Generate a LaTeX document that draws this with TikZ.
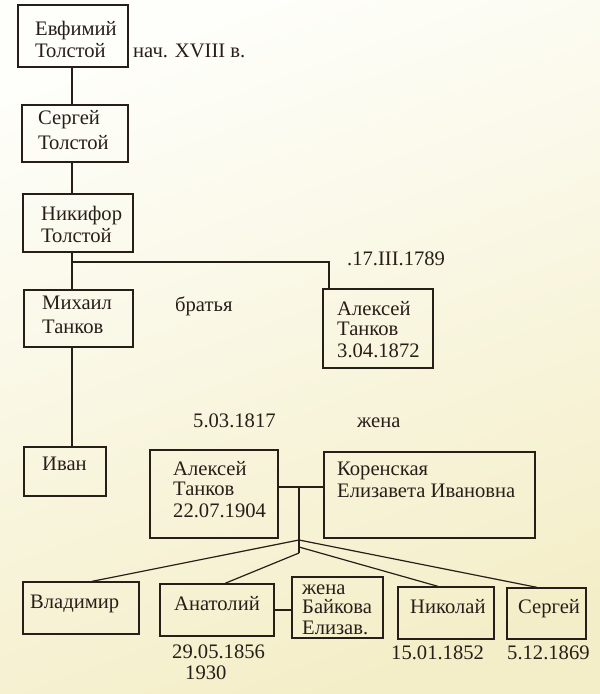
\documentclass[tikz,border=0pt]{standalone}
\usepackage{fontspec}
\setmainfont{Liberation Serif}
\definecolor{ink}{RGB}{40,30,25}
\definecolor{paperA}{RGB}{254,254,250}
\definecolor{paperB}{RGB}{244,238,200}
\begin{document}
\begin{tikzpicture}[x=1pt,y=-1pt,
  box/.style={draw=ink, line width=1.3pt, rectangle, inner sep=0pt},
  txt/.style={text=ink, inner sep=0pt, anchor=base west, font=\fontsize{20.6}{22}\selectfont},
  link/.style={draw=ink, line width=1.2pt}]
\useasboundingbox (0,0) rectangle (600,694);
\shade[top color=paperA, bottom color=paperB, shading angle=20] (0,0) rectangle (600,694);

% boxes
\node[box, minimum width=110, minimum height=62] (ev) at (73,36) {};
\node[box, minimum width=106, minimum height=57] (se) at (75,133.5) {};
\node[box, minimum width=110, minimum height=58] (ni) at (78,223) {};
\node[box, minimum width=109, minimum height=57] (mi) at (78.5,318.5) {};
\node[box, minimum width=82, minimum height=49] (iv) at (65,471.5) {};
\node[box, minimum width=110, minimum height=79] (al1) at (378,328.5) {};
\node[box, minimum width=128, minimum height=88] (al2) at (214,494) {};
\node[box, minimum width=211, minimum height=86] (ko) at (429.5,495) {};
\node[box, minimum width=116, minimum height=52] (vl) at (81,608) {};
\node[box, minimum width=114, minimum height=52] (an) at (217,610) {};
\node[box, minimum width=91, minimum height=61] (zh) at (337.5,607.5) {};
\node[box, minimum width=96, minimum height=52] (nk) at (446,613) {};
\node[box, minimum width=79, minimum height=51] (sg) at (546.5,613.5) {};

% texts
\node[txt] (ev1) at (35,35) {Евфимий};
\node[txt] (ev2) at (35,57) {Толстой};
\node[txt] (evd) at (133,57) {нач. XVIII в.};
\node[txt] (se1) at (38,124) {Сергей};
\node[txt] (se2) at (38,149) {Толстой};
\node[txt] (ni1) at (41,220) {Никифор};
\node[txt] (ni2) at (41,242) {Толстой};
\node[txt] (mi1) at (42,309) {Михаил};
\node[txt] (mi2) at (42,333) {Танков};
\node[txt] (br) at (175,311) {братья};
\node[txt] (iv1) at (42,470) {Иван};
\node[txt] (ald) at (347,265) {.17.III.1789};
\node[txt] (al11) at (337,315) {Алексей};
\node[txt] (al12) at (337,335) {Танков};
\node[txt] (al13) at (337,357) {3.04.1872};
\node[txt] (d2) at (193,427) {5.03.1817};
\node[txt] (zhn) at (357,427) {жена};
\node[txt] (al21) at (173,475) {Алексей};
\node[txt] (al22) at (173,495) {Танков};
\node[txt] (al23) at (173,517) {22.07.1904};
\node[txt] (ko1) at (337,475) {Коренская};
\node[txt] (ko2) at (337,497) {Елизавета Ивановна};
\node[txt] (vl1) at (30,608) {Владимир};
\node[txt] (an1) at (174,610) {Анатолий};
\node[txt] (and1) at (172,658) {29.05.1856};
\node[txt] (and2) at (185,679) {1930};
\node[txt] (zh1) at (302,594) {жена};
\node[txt] (zh2) at (302,613) {Байкова};
\node[txt] (zh3) at (302,634) {Елизав.};
\node[txt] (nk1) at (410,613) {Николай};
\node[txt] (nkd) at (391,659) {15.01.1852};
\node[txt] (sg1) at (518,613) {Сергей};
\node[txt] (sgd) at (507,659) {5.12.1869};

% helper coordinates
\coordinate (L) at (72,0);
\coordinate (R) at (329,0);
\coordinate (j1) at (72,262);
\coordinate (M) at (299,487);
\coordinate (fa) at (299,540);
\coordinate (fb) at (299,547);
\coordinate (fc) at (299,553);
\coordinate (vx) at (92,0);
\coordinate (ax) at (225,0);
\coordinate (nx) at (438,0);
\coordinate (sx) at (537,0);
\coordinate (ay) at (0,610);

% connectors
\draw[link] (ev.south -| L) -- (se.north -| L);
\draw[link] (se.south -| L) -- (ni.north -| L);
\draw[link] (ni.south -| L) -- (mi.north -| L);
\draw[link] (mi.south -| L) -- (iv.north -| L);
\draw[link] (j1) -| (al1.north -| R);
\draw[link] (al2.east |- M) -- (ko.west |- M);
\draw[link] (M) -- (fc);
\draw[link] (fa) -- (vl.north -| vx);
\draw[link] (fa) -- (sg.north -| sx);
\draw[link] (fb) -- (nk.north -| nx);
\draw[link] (fc) -- (an.north -| ax);
\draw[link] (an.east |- ay) -- (zh.west |- ay);
\end{tikzpicture}
\end{document}
